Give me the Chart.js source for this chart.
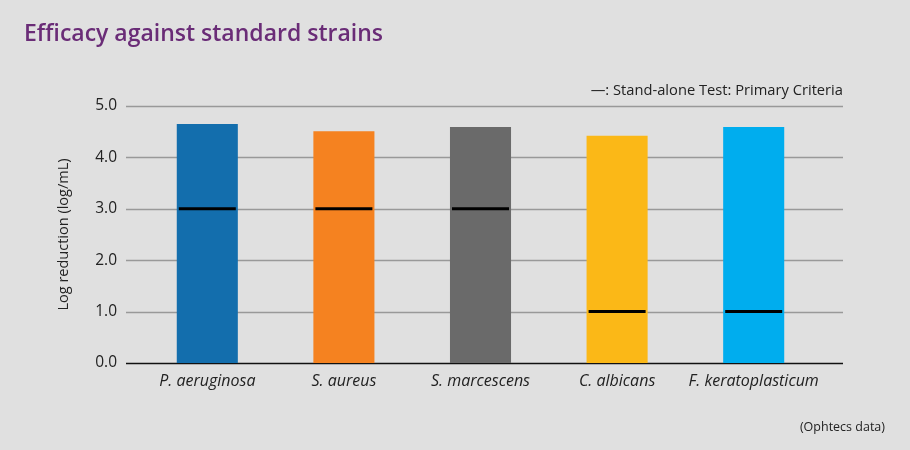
<!DOCTYPE html>
<html><head><meta charset="utf-8">
<script src="https://cdn.jsdelivr.net/npm/chart.js@4.4.1/dist/chart.umd.min.js"></script>
<style>
html,body{margin:0;padding:0;background:#e0e0e0;}
#wrap{position:relative;width:910px;height:450px;background:#e0e0e0;overflow:hidden;font-family:'Open Sans',sans-serif;}
#title{position:absolute;left:24px;top:16px;font-size:23px;font-weight:600;color:#6a2c77;white-space:nowrap;line-height:normal;}
#note{position:absolute;right:67px;top:79px;font-size:14.7px;color:#222;white-space:nowrap;line-height:normal;}
#src{position:absolute;right:25px;top:418px;font-size:12.5px;color:#222;white-space:nowrap;line-height:normal;}
canvas{position:absolute;left:0;top:0;}
</style></head>
<body><div id="wrap">
<canvas id="c" width="910" height="450"></canvas>
<div id="title">Efficacy against standard strains</div>
<div id="note">—: Stand-alone Test: Primary Criteria</div>
<div id="src">(Ophtecs data)</div>
</div>
<script>
const categories = ["P. aeruginosa","S. aureus","S. marcescens","C. albicans","F. keratoplasticum"];
const logReduction = [4.65, 4.51, 4.59, 4.42, 4.59];
const primaryCriteria = [3.0, 3.0, 3.0, 1.0, 1.0];
const barColors = ["#136ead","#f58220","#6a6a6a","#fbb817","#00adee"];
const yTicks = [0,1,2,3,4,5];

const gridPlugin = {
  id:'gridExt',
  beforeDatasetsDraw(chart){
    const {ctx, scales:{y}} = chart;
    ctx.save();
    yTicks.forEach(v=>{
      const py = Math.round(y.getPixelForValue(v))+0.5;
      ctx.beginPath();
      ctx.strokeStyle = v===0 ? '#111' : '#999';
      ctx.lineWidth = 1.5;
      ctx.moveTo(126, py); ctx.lineTo(843, py); ctx.stroke();
    });
    ctx.restore();
  }
};

new Chart(document.getElementById('c'), {
  type:'bar',
  data:{
    labels:categories,
    datasets:[
      {type:'line', data:primaryCriteria, showLine:false, pointStyle:'line', pointRadius:28.5, pointHoverRadius:28.5,
       borderColor:'#000', pointBorderColor:'#000', pointBorderWidth:3, borderWidth:3, order:0},
      {data:logReduction, backgroundColor:barColors, barPercentage:0.447, categoryPercentage:1, order:1}
    ]
  },
  options:{
    responsive:false, animation:false,
    layout:{padding:{top:106,right:88,bottom:0,left:0}},
    plugins:{legend:{display:false}, tooltip:{enabled:false}},
    scales:{
      x:{
        grid:{display:false}, border:{display:false},
        ticks:{padding:1, color:'#222', font:{family:'Open Sans', size:16, style:'italic'}},
        afterFit(s){ s.height = 87; }
      },
      y:{
        min:0, max:5,
        afterBuildTicks(s){ s.ticks = yTicks.map(v=>({value:v})); },
        grid:{display:false, drawTicks:false}, border:{display:false},
        ticks:{padding:22, color:'#222', font:{family:'Open Sans', size:15.5}, callback:v=>v.toFixed(1)},
        title:{display:true, text:'Log reduction (log/mL)', color:'#222', font:{family:'Open Sans', size:14.5}, padding:{top:55,bottom:0}},
        afterFit(s){ s.width = 139; }
      }
    }
  },
  plugins:[gridPlugin]
});
</script>
</body></html>
